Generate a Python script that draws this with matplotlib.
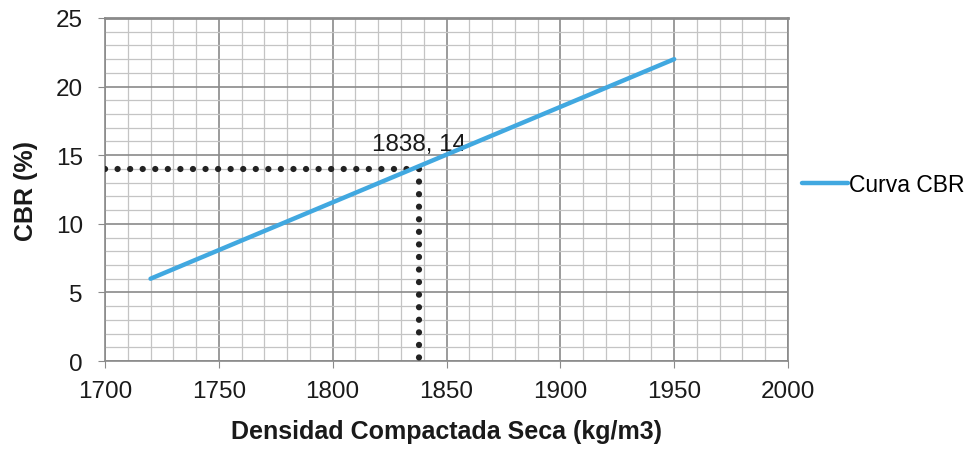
import matplotlib
matplotlib.use("Agg")
import matplotlib.pyplot as plt
from matplotlib.ticker import MultipleLocator

plt.rcParams['font.family'] = ['Liberation Sans', 'DejaVu Sans']

# Data
curve_x = [1720, 1950]
curve_y = [6, 22]
point_x = 1838
point_y = 14
label_text = "1838, 14"
xticks = [1700, 1750, 1800, 1850, 1900, 1950, 2000]
yticks = [0, 5, 10, 15, 20, 25]

fig = plt.figure(figsize=(9.76, 4.52), dpi=100)
ax = fig.add_axes([0.1076, 0.199, 0.6998, 0.759])

ax.set_xlim(1700, 2000)
ax.set_ylim(0, 25)
ax.xaxis.set_minor_locator(MultipleLocator(10))
ax.yaxis.set_minor_locator(MultipleLocator(1))
ax.set_xticks(xticks)
ax.set_yticks(yticks)

ax.grid(which='major', color='#8a8a8a', linewidth=1.2)
ax.grid(which='minor', color='#c4c4c4', linewidth=0.9)
ax.set_axisbelow(True)

for s in ax.spines.values():
    s.set_color('#8a8a8a')
    s.set_linewidth(1.2)
ax.spines['top'].set_linewidth(2)

ax.tick_params(which='major', length=5, color='#8a8a8a', labelsize=17.5,
               labelcolor='#1a1a1a')
ax.tick_params(axis='x', which='major', pad=9)
ax.tick_params(axis='y', which='major', pad=11)
ax.tick_params(which='minor', length=0)

# Dotted guide lines
ax.plot([1700, point_x], [point_y, point_y], linestyle=(0, (0.01, 2.0)),
        color='#222222', linewidth=4.5, dash_capstyle='round', zorder=3)
ax.plot([point_x, point_x], [point_y, 0], linestyle=(0, (0.01, 2.0)),
        color='#222222', linewidth=4.5, dash_capstyle='round', zorder=3)

# Curve
ax.plot(curve_x, curve_y, color='#41a8e0', linewidth=3.2,
        solid_capstyle='round', label='Curva CBR', zorder=4)

ax.annotate(label_text, xy=(point_x, point_y), xytext=(0, 10),
            textcoords='offset points', ha='center', va='bottom',
            fontsize=17.5, color='#1a1a1a')

ax.set_xlabel('Densidad Compactada Seca (kg/m3)', fontsize=18,
              fontweight='bold', labelpad=12, color='#1a1a1a')
ax.set_ylabel('CBR (%)', fontsize=18, fontweight='bold', labelpad=13,
              color='#1a1a1a')

leg = ax.legend(loc='center left', bbox_to_anchor=(0.997, 0.515), frameon=False,
                fontsize=16.5, handlelength=2.0, handletextpad=0.05,
                borderaxespad=0.3)

fig.savefig('out.png', dpi=100)
